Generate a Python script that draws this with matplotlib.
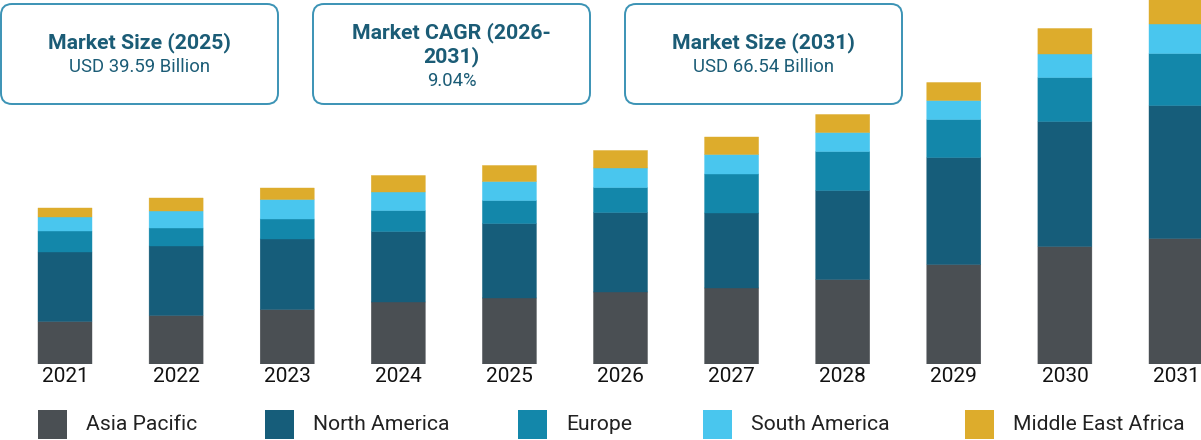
import matplotlib
matplotlib.use("Agg")
import matplotlib.pyplot as plt
from matplotlib.patches import FancyBboxPatch, Rectangle
import numpy as np

plt.rcParams['font.family'] = ['Roboto', 'DejaVu Sans']

# data (USD billion)
years = ['2021', '2022', '2023', '2024', '2025', '2026', '2027', '2028', '2029', '2030', '2031']
regions = ['Asia Pacific', 'North America', 'Europe', 'South America', 'Middle East Africa']
asia_pacific = [8.5, 9.7, 10.9, 12.4, 13.2, 14.4, 15.2, 16.9, 19.9, 23.5, 25.1]
north_america = [13.9, 13.9, 14.1, 14.1, 14.9, 15.9, 15.0, 17.8, 21.4, 25.0, 26.6]
europe = [4.2, 3.6, 4.0, 4.2, 4.6, 5.0, 7.8, 7.8, 7.6, 8.8, 10.4]
south_america = [2.8, 3.4, 3.9, 3.7, 3.8, 3.9, 3.9, 3.8, 3.8, 4.7, 5.9]
middle_east_africa = [1.8, 2.6, 2.3, 3.3, 3.2, 3.5, 3.5, 3.6, 3.6, 5.1, 5.0]

card_titles = ['Market Size (2025)', 'Market CAGR (2026-\n2031)', 'Market Size (2031)']
card_values = ['USD 39.59 Billion', '9.04%', 'USD 66.54 Billion']

colors = ['#4a4f53', '#165d7a', '#1387aa', '#49c6ee', '#ddac2c']
text_blue = '#1b5c76'

W, H = 1201, 440
fig = plt.figure(figsize=(W / 100, H / 100), dpi=100)

# bar axes: baseline at y=364 px, reaches top of the figure
ax = fig.add_axes([0, 1 - 364 / H, 1, 364 / H])
series = [asia_pacific, north_america, europe, south_america, middle_east_africa]
x = np.arange(len(years))
bottom = np.zeros(len(years))
for vals, col, name in zip(series, colors, regions):
    bars = ax.bar(x, vals, width=0.486, bottom=bottom, color=col, edgecolor=col,
                  linewidth=0.3, label=name)
    for b in bars:
        b.set_snap(False)
    bottom += np.array(vals)

step = 111.1
xmin = -65 / step
ax.set_xlim(xmin, xmin + W / step)
ax.set_ylim(0, 72.8)
ax.set_xticks(x)
ax.set_xticklabels(years, fontsize=15, color='#111111')
ax.tick_params(axis='x', length=0, pad=2)
ax.set_yticks([])
for s in ax.spines.values():
    s.set_visible(False)

# overlay in pixel units for cards and legend
ov = fig.add_axes([0, 0, 1, 1])
ov.set_xlim(0, W)
ov.set_ylim(H, 0)
ov.axis('off')

card_x = [1, 313, 625]
card_w = 277
for cx, title, val in zip(card_x, card_titles, card_values):
    box = FancyBboxPatch((cx, 4), card_w, 100,
                         boxstyle='round,pad=0,rounding_size=11',
                         facecolor='white', edgecolor='#3b93b5', linewidth=1.4)
    ov.add_patch(box)
    if '\n' in title:
        ov.text(cx + card_w / 2, 44.5, title, ha='center', va='center',
                fontsize=15.3, fontweight='bold', color=text_blue, linespacing=1.2)
        ov.text(cx + card_w / 2, 81, val, ha='center', va='center',
                fontsize=13.3, color=text_blue)
    else:
        ov.text(cx + card_w / 2, 43, title, ha='center', va='center',
                fontsize=15.3, fontweight='bold', color=text_blue)
        ov.text(cx + card_w / 2, 67, val, ha='center', va='center',
                fontsize=13.3, color=text_blue)

# legend
leg_x = [38, 265, 518, 703, 965]
for lx, col, name in zip(leg_x, colors, regions):
    ov.add_patch(Rectangle((lx, 410), 29, 29, facecolor=col, edgecolor='none'))
    ov.text(lx + 48, 425, name, ha='left', va='center', fontsize=15.2, color='#222222')

fig.savefig('out.png', dpi=100)
